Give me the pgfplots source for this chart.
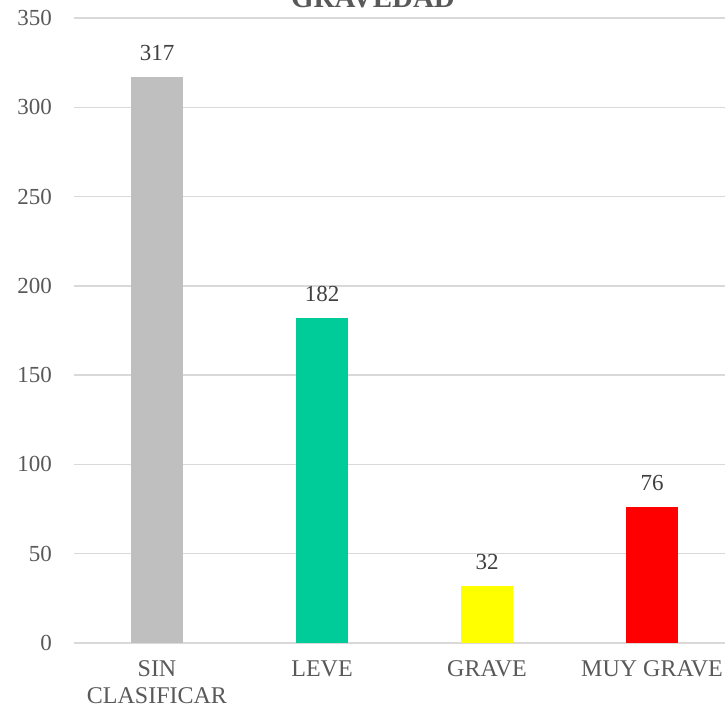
\documentclass[border=0pt]{standalone}
\usepackage{pgfplots}
\pgfplotsset{compat=1.18}
\usepackage{fontspec}
\setmainfont{Liberation Serif}

\definecolor{txtgray}{HTML}{595959}
\definecolor{lblgray}{HTML}{404040}
\definecolor{gridgray}{HTML}{D9D9D9}
\definecolor{barsin}{HTML}{BFBFBF}
\definecolor{barleve}{HTML}{00CC99}
\definecolor{bargrave}{HTML}{FFFF00}
\definecolor{barmuy}{HTML}{FF0000}

\begin{document}
\begin{tikzpicture}
\begin{axis}[
  name=ax,
  scale only axis,
  width=660pt, height=625pt,
  xmin=-0.5, xmax=3.5,
  ymin=0, ymax=350,
  ytick={0,50,...,350},
  xtick={0,1,2,3},
  xticklabels={{SIN\\CLASIFICAR},{LEVE},{GRAVE},{MUY GRAVE}},
  ybar, bar width=52pt,
  axis line style={draw=none},
  major tick length=0pt,
  ymajorgrids,
  grid style={color=gridgray, line width=1.4pt},
  tick label style={font=\fontsize{23}{28.5}\selectfont, color=txtgray},
  /pgf/number format/assume math mode=true,
  xticklabel style={align=center, yshift=-14pt, font=\fontsize{24}{27.5}\selectfont},
  yticklabel style={xshift=-19pt},
  nodes near coords,
  every node near coord/.append style={font=\fontsize{23}{28}\selectfont, color=lblgray, yshift=13pt},
  clip=false,
]
\addplot[fill=barsin, draw=none, bar shift=0pt] coordinates {(0,317)};
\addplot[fill=barleve, draw=none, bar shift=0pt] coordinates {(1,182)};
\addplot[fill=bargrave, draw=none, bar shift=0pt] coordinates {(2,32)};
\addplot[fill=barmuy, draw=none, bar shift=0pt] coordinates {(3,76)};
\end{axis}
\node[anchor=base, font=\fontsize{29}{34}\selectfont\bfseries, color=txtgray, inner sep=0pt]
  at ([xshift=298.5pt, yshift=635pt]ax.south west) {GRAVEDAD};
\pgfresetboundingbox
\path[use as bounding box] ([xshift=-74.5pt, yshift=-67pt]ax.south west)
  rectangle ([xshift=650.5pt, yshift=643pt]ax.south west);
\end{tikzpicture}
\end{document}
